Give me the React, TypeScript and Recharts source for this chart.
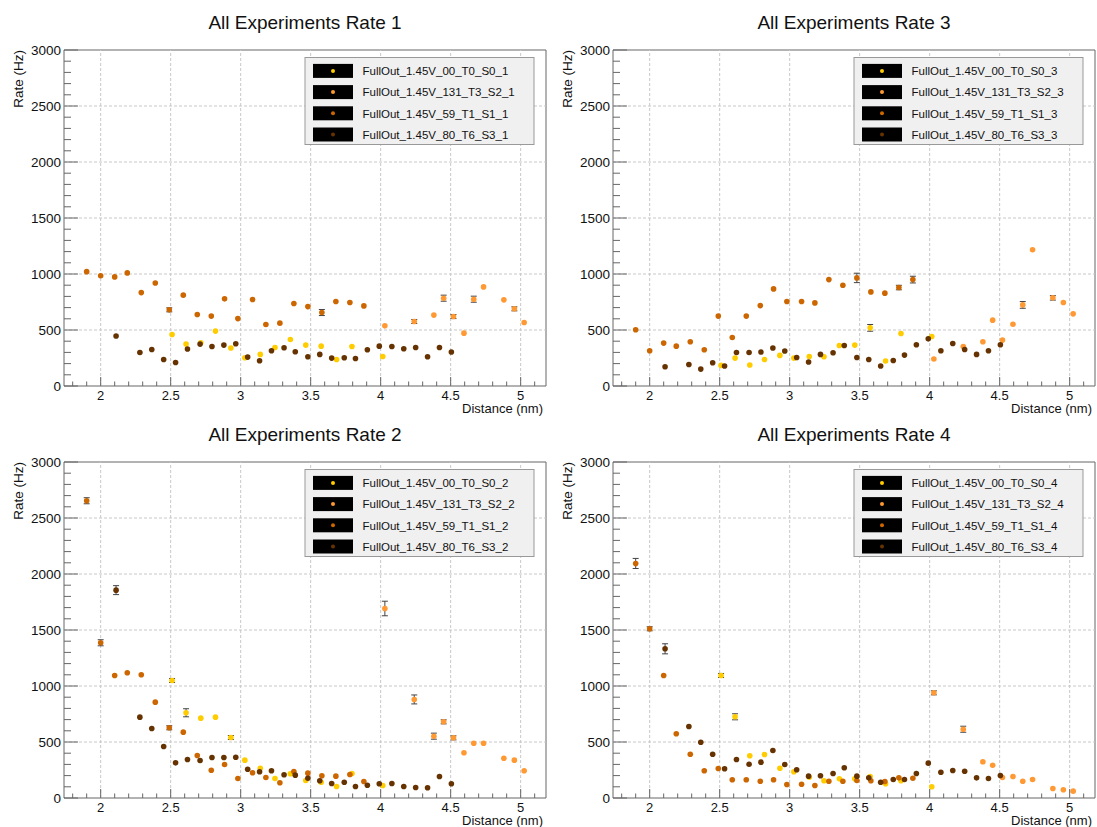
import React from "react";
import {
  ScatterChart,
  Scatter,
  XAxis,
  YAxis,
  ErrorBar,
  ReferenceLine,
  ReferenceArea,
} from "recharts";

const FONT = '"Liberation Sans", Arial, Helvetica, sans-serif';

// run names and marker colours, in legend order
const RUN_NAMES = [
  "FullOut_1.45V_00_T0_S0",
  "FullOut_1.45V_131_T3_S2",
  "FullOut_1.45V_59_T1_S1",
  "FullOut_1.45V_80_T6_S3",
];
const RUN_COLORS = ["#ffcc00", "#ff9933", "#cc6600", "#663300"];

// distances (nm) scanned by each run
const DIST_S0 = [2.51, 2.61, 2.715, 2.82, 2.93, 3.03, 3.14, 3.245, 3.355, 3.465, 3.575, 3.685, 3.795, 4.015];
const DIST_S2 = [4.03, 4.24, 4.38, 4.45, 4.52, 4.595, 4.665, 4.735, 4.88, 4.955, 5.025];
const DIST_S1 = [1.9, 2.0, 2.1, 2.19, 2.29, 2.39, 2.49, 2.59, 2.69, 2.79, 2.885, 2.98, 3.085, 3.18, 3.28, 3.38, 3.48, 3.58, 3.68, 3.78, 3.88];
const DIST_S3 = [2.11, 2.28, 2.365, 2.45, 2.535, 2.62, 2.71, 2.795, 2.88, 2.965, 3.05, 3.135, 3.22, 3.31, 3.39, 3.48, 3.565, 3.65, 3.74, 3.82, 3.905, 3.99, 4.08, 4.165, 4.25, 4.335, 4.42, 4.505];

// Rate 1 (Hz)
const R1_S0 = [460, 374, 386, 490, 339, 252, 282, 344, 415, 365, 356, 237, 353, 264];
const R1_S2 = [537, 576, 633, 784, 620, 472, 775, 885, 769, 689, 567];
const R1_S1 = [1021, 985, 974, 1010, 834, 920, 680, 811, 638, 624, 778, 602, 772, 549, 561, 736, 709, 656, 754, 745, 715];
const R1_S3 = [446, 299, 326, 237, 210, 330, 374, 353, 365, 377, 258, 225, 315, 341, 306, 261, 282, 249, 252, 246, 323, 356, 353, 332, 344, 261, 344, 303];

// Rate 2 (Hz)
const R2_S0 = [1049, 761, 713, 722, 540, 338, 266, 174, 216, 156, 141, 103, 219, 112];
const R2_S2 = [1692, 880, 552, 680, 537, 404, 489, 489, 355, 338, 243];
const R2_S1 = [2654, 1386, 1094, 1118, 1100, 856, 627, 588, 380, 248, 299, 174, 225, 183, 136, 237, 222, 198, 195, 210, 147];
const R2_S3 = [1856, 722, 621, 460, 314, 344, 335, 362, 362, 364, 257, 234, 243, 207, 204, 177, 154, 129, 141, 103, 114, 127, 129, 103, 94, 91, 192, 127];

// Rate 3 (Hz)
const R3_S0 = [184, 249, 187, 237, 273, 249, 264, 261, 362, 365, 519, 223, 469, 442];
const R3_S2 = [241, 353, 395, 588, 410, 552, 724, 1217, 787, 745, 644];
const R3_S1 = [502, 315, 383, 356, 395, 323, 624, 433, 624, 718, 867, 754, 754, 742, 950, 900, 965, 840, 829, 879, 950];
const R3_S3 = [172, 192, 151, 208, 178, 299, 299, 303, 339, 312, 255, 214, 282, 297, 362, 255, 237, 178, 228, 276, 368, 421, 315, 380, 326, 282, 315, 368];

// Rate 4 (Hz)
const R4_S0 = [1094, 725, 377, 388, 266, 234, 186, 154, 171, 172, 192, 127, 154, 100];
const R4_S2 = [939, 614, 323, 293, 183, 192, 150, 165, 85, 73, 61];
const R4_S1 = [2094, 1511, 1094, 573, 391, 243, 263, 163, 163, 150, 163, 121, 123, 112, 150, 150, 156, 154, 147, 180, 177];
const R4_S3 = [1332, 638, 498, 391, 261, 344, 302, 320, 424, 299, 252, 195, 198, 219, 270, 195, 180, 141, 165, 165, 219, 311, 230, 246, 239, 180, 174, 201];

// errors (Hz) by point index, only where they stick out of the marker
const ERR_R1 = { S0: {}, S2: { 1: 18, 3: 27, 4: 18, 6: 27, 9: 18 }, S1: { 6: 18, 17: 27 }, S3: {} };
const ERR_R2 = { S0: { 0: 18, 1: 36, 4: 18 }, S2: { 0: 65, 1: 40, 2: 27, 3: 18, 4: 18 }, S1: { 0: 27, 1: 27, 6: 18 }, S3: { 0: 40 } };
const ERR_R3 = { S0: { 10: 30 }, S2: { 6: 30, 8: 20 }, S1: { 16: 42, 19: 20, 20: 30 }, S3: {} };
const ERR_R4 = { S0: { 0: 18, 1: 27 }, S2: { 0: 18, 1: 27 }, S1: { 0: 45, 1: 18 }, S3: { 0: 45 } };

// axis ticks: every 0.1 nm / 100 Hz, labelled on the majors
const X_TICKS = [1.8, 1.9, 2, 2.1, 2.2, 2.3, 2.4, 2.5, 2.6, 2.7, 2.8, 2.9, 3, 3.1, 3.2, 3.3, 3.4, 3.5, 3.6, 3.7, 3.8, 3.9, 4, 4.1, 4.2, 4.3, 4.4, 4.5, 4.6, 4.7, 4.8, 4.9, 5, 5.1];
const Y_TICKS = [0, 100, 200, 300, 400, 500, 600, 700, 800, 900, 1000, 1100, 1200, 1300, 1400, 1500, 1600, 1700, 1800, 1900, 2000, 2100, 2200, 2300, 2400, 2500, 2600, 2700, 2800, 2900, 3000];
const X_GRID = [2, 2.5, 3, 3.5, 4, 4.5, 5];
const Y_GRID = [500, 1000, 1500, 2000, 2500];

const X_MIN = 1.738;
const X_MAX = 5.181;
const Y_MAX = 3000;

const W = 548;
const H = 413;
const PLOT_LEFT = 64;
const PLOT_TOP = 50;
const PLOT_RIGHT = 546;
const PLOT_BOTTOM = 386;

type ErrMap = Record<number, number>;

function build(dist: number[], vals: number[], errs: ErrMap) {
  return dist.map((x, i) => ({ x, y: vals[i], e: errs[i] ?? 0 }));
}

function XTick(props: any) {
  const { x, y, payload } = props;
  const v = payload.value as number;
  const major = Math.abs(v * 2 - Math.round(v * 2)) < 1e-6;
  return (
    <g>
      <line x1={x} x2={x} y1={y} y2={y - (major ? 9 : 4.5)} stroke="#666" strokeWidth={1} />
      {major && (
        <text x={x} y={y + 14} textAnchor="middle" fontSize={13} fill="#111" fontFamily={FONT}>
          {String(v)}
        </text>
      )}
    </g>
  );
}

function YTick(props: any) {
  const { x, y, payload } = props;
  const v = payload.value as number;
  const major = v % 500 === 0;
  return (
    <g>
      <line x1={x} x2={x + (major ? 14 : 7)} y1={y} y2={y} stroke="#666" strokeWidth={1} />
      {major && (
        <text x={x - 3} y={y + 4.7} textAnchor="end" fontSize={13.5} fill="#111" fontFamily={FONT}>
          {v}
        </text>
      )}
    </g>
  );
}

function RatePanel(props: {
  rate: number;
  left: number;
  top: number;
  s0: number[];
  s2: number[];
  s1: number[];
  s3: number[];
  errs: Record<string, ErrMap>;
}) {
  const { rate, left, top, s0, s1, s2, s3, errs } = props;
  const runs = [
    build(DIST_S0, s0, errs.S0),
    build(DIST_S2, s2, errs.S2),
    build(DIST_S1, s1, errs.S1),
    build(DIST_S3, s3, errs.S3),
  ];
  const legendX = 305;
  const legendY = 57.5;

  return (
    <div style={{ position: "absolute", left, top, width: W, height: H }}>
      <ScatterChart
        width={W}
        height={H}
        margin={{ top: PLOT_TOP, right: W - PLOT_RIGHT, bottom: 0, left: 0 }}
      >
        <XAxis
          type="number"
          dataKey="x"
          domain={[X_MIN, X_MAX]}
          ticks={X_TICKS}
          interval={0}
          tick={(p: any) => <XTick {...p} />}
          tickLine={false}
          axisLine={false}
          tickSize={0}
          tickMargin={0}
          height={H - PLOT_BOTTOM}
          allowDataOverflow
        />
        <YAxis
          type="number"
          dataKey="y"
          domain={[0, Y_MAX]}
          ticks={Y_TICKS}
          interval={0}
          tick={(p: any) => <YTick {...p} />}
          tickLine={false}
          axisLine={false}
          tickSize={0}
          tickMargin={0}
          width={PLOT_LEFT}
          allowDataOverflow
        />
        {X_GRID.map((v) => (
          <ReferenceLine key={"gx" + v} x={v} stroke="#c8c8c8" strokeDasharray="3 2" />
        ))}
        {Y_GRID.map((v) => (
          <ReferenceLine key={"gy" + v} y={v} stroke="#c8c8c8" strokeDasharray="3 2" />
        ))}
        <ReferenceArea x1={X_MIN} x2={X_MAX} y1={0} y2={Y_MAX} fill="none" stroke="#666" strokeWidth={1} />
        {runs.map((data, k) => (
          <Scatter
            key={RUN_NAMES[k]}
            data={data}
            fill={RUN_COLORS[k]}
            isAnimationActive={false}
            shape={(p: any) => <circle cx={p.cx} cy={p.cy} r={2.8} fill={RUN_COLORS[k]} />}
          >
            <ErrorBar dataKey="e" direction="y" width={3} stroke="#444" strokeWidth={1} />
          </Scatter>
        ))}
      </ScatterChart>

      <svg
        width={W}
        height={H}
        style={{ position: "absolute", left: 0, top: 0, pointerEvents: "none", overflow: "visible" }}
        fontFamily={FONT}
      >
        <text x={(PLOT_LEFT + PLOT_RIGHT) / 2} y={29.3} textAnchor="middle" fontSize={19} fill="#111">
          {`All Experiments Rate ${rate}`}
        </text>
        <text
          transform={`translate(22.5, ${PLOT_TOP}) rotate(-90)`}
          textAnchor="end"
          fontSize={13.5}
          fill="#111"
        >
          Rate (Hz)
        </text>
        <text x={543} y={PLOT_BOTTOM + 27} textAnchor="end" fontSize={13} fill="#111">
          Distance (nm)
        </text>

        <rect x={legendX} y={legendY} width={229} height={87} fill="#f0f0f0" stroke="#999" strokeWidth={1} />
        {RUN_NAMES.map((name, k) => {
          const cy = legendY + 13.4 + k * 21.2;
          return (
            <g key={name}>
              <rect x={legendX + 8} y={cy - 7} width={40} height={14} fill="#000" />
              <circle cx={legendX + 28} cy={cy} r={2} fill={RUN_COLORS[k]} />
              <text x={legendX + 57.5} y={cy + 4.2} fontSize={11.5} fill="#111">
                {`${name}_${rate}`}
              </text>
            </g>
          );
        })}
      </svg>
    </div>
  );
}

export default function App() {
  return (
    <div
      style={{
        position: "absolute",
        left: 0,
        top: 0,
        width: 1097,
        height: 827,
        background: "#fff",
        fontFamily: FONT,
      }}
    >
      <RatePanel rate={1} left={0} top={0} s0={R1_S0} s2={R1_S2} s1={R1_S1} s3={R1_S3} errs={ERR_R1} />
      <RatePanel rate={3} left={549} top={0} s0={R3_S0} s2={R3_S2} s1={R3_S1} s3={R3_S3} errs={ERR_R3} />
      <RatePanel rate={2} left={0} top={412} s0={R2_S0} s2={R2_S2} s1={R2_S1} s3={R2_S3} errs={ERR_R2} />
      <RatePanel rate={4} left={549} top={412} s0={R4_S0} s2={R4_S2} s1={R4_S1} s3={R4_S3} errs={ERR_R4} />
    </div>
  );
}
